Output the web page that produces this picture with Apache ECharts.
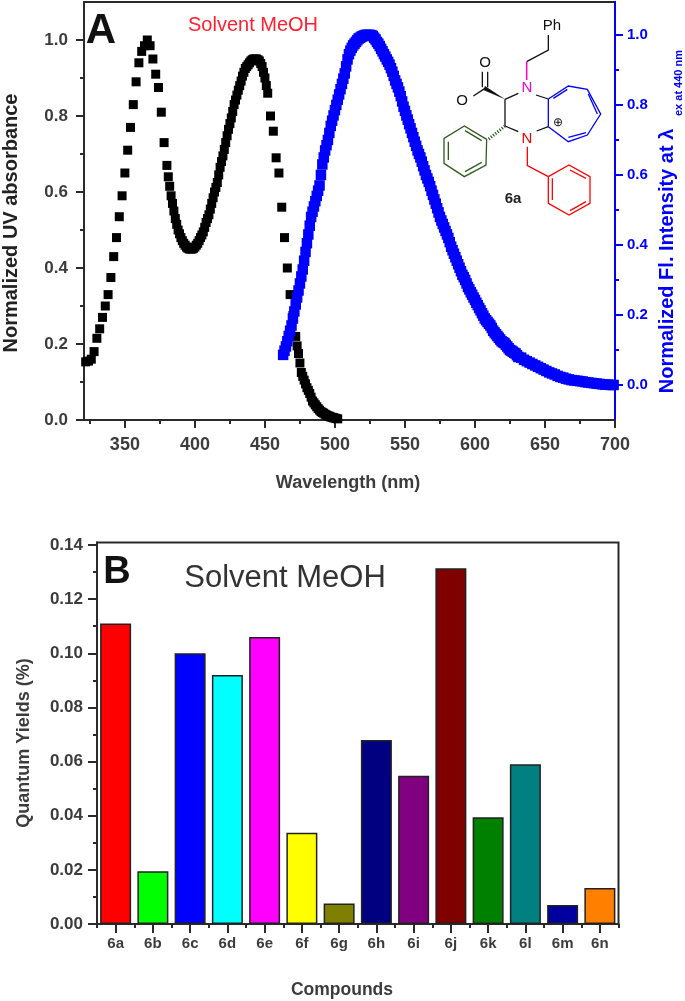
<!DOCTYPE html>
<html><head><meta charset="utf-8">
<script src="https://cdn.jsdelivr.net/npm/echarts@6/dist/echarts.min.js"></script>
<style>html,body{margin:0;padding:0;background:#fff}#c{width:685px;height:1001px;filter:blur(0.6px)}</style>
</head><body><div id="c"></div>
<script>
const uvStartNm = 322, uvStepNm = 2;
const uvAbsorbance = [.153,.155,.16,.18,.215,.24,.27,.30,.33,.375,.43,.48,.535,.59,.65,.71,.77,.83,.89,.94,.97,.985,1.0,.985,.95,.91,.875,.81,.73,.67,.615,.57,.53,.50,.48,.465,.455,.45,.45,.455,.465,.48,.495,.52,.54,.57,.60,.625,.665,.695,.73,.765,.795,.83,.855,.88,.905,.925,.935,.945,.95,.95,.945,.93,.90,.86,.80,.76,.69,.65,.56,.48,.40,.33,.275,.22,.175,.125,.105,.085,.07,.05,.04,.03,.022,.018,.013,.01,.007,.005,.003];
const uvOddStartNm = 381, uvOddStepNm = 2;
const uvAbsorbanceOdd = [.64,.59,.55,.515,.49,.472,.46,.452,.45,.452,.46,.472,.487,.507,.53,.555,.585,.612,.645,.68,.712,.748,.78,.812,.842,.868,.892,.915,.93,.94,.948,.95,.948,.938,.915,.88];
const uvTailStartNm = 473, uvTailStepNm = 2;
const uvAbsorbanceTail = [.195,.15,.115,.095,.078,.06,.045,.035,.026,.02,.015,.011,.008,.006,.004];
const flStartNm = 463, flStepNm = 2;
const flIntensity = [.086,.11,.14,.17,.21,.25,.29,.33,.38,.43,.48,.51,.54,.57,.63,.67,.70,.74,.77,.80,.83,.86,.89,.93,.955,.97,.98,.99,.995,.998,1.0,1.0,.997,.987,.975,.96,.945,.93,.915,.895,.87,.85,.825,.795,.77,.745,.72,.695,.67,.65,.625,.60,.58,.555,.53,.505,.48,.46,.44,.42,.395,.375,.355,.335,.315,.30,.28,.265,.25,.235,.22,.205,.19,.18,.17,.155,.145,.135,.125,.12,.11,.10,.095,.09,.08,.078,.072,.068,.064,.06,.056,.052,.048,.044,.04,.036,.033,.03,.026,.023,.021,.018,.016,.014,.013,.012,.011,.010,.008,.007,.006,.005,.004,.003,.002,.001,.001,.0,.0];
const flEvenStartNm = 464, flEvenStepNm = 2;
const flIntensityEven = [.098,.125,.155,.19,.23,.27,.31,.355,.405,.455,.495,.525,.555,.60,.65,.685,.72,.755,.785,.815,.845,.875,.91,.945,.963,.975,.985,.992,.997,1.0,1.0,.999,.992,.98,.968,.953,.938,.923,.905,.883,.86,.838,.81,.783,.758,.733,.708,.683,.66,.638,.613,.59,.568,.543,.518,.493,.47,.45,.43,.408,.385,.365,.345,.325,.308,.29,.273,.258,.243,.228,.213,.198,.185,.175,.163,.15,.14,.13,.122,.115,.105,.098,.092,.085];
const wavelengthMajor = [350,400,450,500,550,600,650,700];
const wavelengthMinor = [325,375,425,475,525,575,625,675];
const uvMajor = [0,.2,.4,.6,.8,1.0];
const uvMinor = [.1,.3,.5,.7,.9];
const flMajor = [0,.2,.4,.6,.8,1.0];
const flMinor = [.1,.3,.5,.7,.9];
const compounds = ['6a','6b','6c','6d','6e','6f','6g','6h','6i','6j','6k','6l','6m','6n'];
const yields = [.111,.0195,.100,.092,.106,.0337,.0076,.068,.0548,.1314,.0394,.059,.007,.0133];
const barColors = ['#ff0000','#00ff00','#0000ff','#00ffff','#ff00ff','#ffff00','#808000','#000080','#800080','#800000','#008000','#008080','#0000a0','#ff8000'];
const yieldMajor = [0,.02,.04,.06,.08,.10,.12,.14];
const yieldMinor = [.01,.03,.05,.07,.09,.11,.13];

const DARK='#2a2a2a', TXT='#3c3c3c', BLUE='#0000ff', FONT='"Liberation Sans",Arial,sans-serif';
const pts=(start,step,vals)=>vals.map((v,i)=>[start+i*step,v]);
const uvPts = [...pts(uvStartNm,uvStepNm,uvAbsorbance),...pts(uvOddStartNm,uvOddStepNm,uvAbsorbanceOdd),...pts(uvTailStartNm,uvTailStepNm,uvAbsorbanceTail)];
const flPts = [...pts(flStartNm,flStepNm,flIntensity),...pts(flEvenStartNm,flEvenStepNm,flIntensityEven)];

function tickAxis(base,vals,len,color,labelCfg,lineOn){
  return Object.assign({type:'value',scale:false,splitLine:{show:false},
    axisLine:{show:lineOn,onZero:false,lineStyle:{color:color,width:2}},
    axisTick:{show:true,customValues:vals,length:len,inside:false,lineStyle:{color:color,width:2}},
    axisLabel:labelCfg||{show:false}},base);
}
const AX={min:320.8,max:700}, AY={min:0,max:1.1}, AR={min:-0.1,max:1.094};
const BY={min:0,max:.14094};

const xAxis=[
  tickAxis({gridIndex:0,position:'bottom',...AX},wavelengthMajor,8,DARK,
    {show:true,customValues:wavelengthMajor,fontFamily:FONT,fontWeight:'bold',fontSize:18,color:TXT,margin:16,hideOverlap:false},true),
  tickAxis({gridIndex:0,position:'bottom',...AX},wavelengthMinor,4,DARK,null,false),
  {type:'category',gridIndex:1,position:'bottom',data:compounds,boundaryGap:true,
    axisLine:{show:true,onZero:false,lineStyle:{color:DARK,width:2}},
    axisTick:{show:true,alignWithLabel:true,length:9,lineStyle:{color:DARK,width:2}},
    axisLabel:{interval:0,fontFamily:FONT,fontWeight:'bold',fontSize:15,color:TXT,margin:12},splitLine:{show:false}},
  {type:'category',gridIndex:1,position:'bottom',data:compounds,boundaryGap:true,
    axisLine:{show:false},axisTick:{show:true,alignWithLabel:false,interval:0,length:4,lineStyle:{color:DARK,width:2}},
    axisLabel:{show:false},splitLine:{show:false}}
];
const yAxis=[
  tickAxis({gridIndex:0,position:'left',...AY},uvMajor,8,DARK,
    {show:true,customValues:uvMajor,formatter:v=>(+v).toFixed(1),fontFamily:FONT,fontWeight:'bold',fontSize:17,color:TXT,margin:16},true),
  tickAxis({gridIndex:0,position:'left',...AY},uvMinor,4,DARK,null,false),
  tickAxis({gridIndex:0,position:'right',...AR},flMajor,8,BLUE,
    {show:true,customValues:flMajor,formatter:v=>(+v).toFixed(1),fontFamily:FONT,fontWeight:'bold',fontSize:15,color:BLUE,margin:12},true),
  tickAxis({gridIndex:0,position:'right',...AR},flMinor,4,BLUE,null,false),
  tickAxis({gridIndex:1,position:'left',...BY},yieldMajor,9,DARK,
    {show:true,customValues:yieldMajor,formatter:v=>(+v).toFixed(2),fontFamily:FONT,fontWeight:'bold',fontSize:17,color:TXT,margin:14},true),
  tickAxis({gridIndex:1,position:'left',...BY},yieldMinor,4,DARK,null,false)
];

// chemical structure 6a, given in a local drawing space
const S=(x,y)=>[340+x/3,y/3];
function seg(points,color,w){return {type:'polyline',z:20,shape:{points:points.map(p=>S(p[0],p[1]))},style:{stroke:color,lineWidth:w||1.3,fill:null}};}
const BK='#111', GR='#2f5a20', RD='#ff0000', MG='#ff00cc';
const struct=[
  seg([[625,105],[625,150],[560,185]],BK),
  seg([[560,185],[560,240]],MG,1.5),
  seg([[588,285],[625,297]],BK),
  seg([[625,297],[625,380]],BLUE),
  seg([[625,297],[685,258],[742,268],[782,342],[742,405],[685,425],[625,380]],BLUE),
  seg([[640,295],[682,268]],BLUE), seg([[745,282],[772,342]],BLUE), seg([[685,412],[738,398]],BLUE),
  seg([[625,380],[590,393]],BK),
  seg([[495,298],[495,378]],BK),
  seg([[495,298],[535,280]],BK),
  seg([[495,378],[535,395]],BK),
  seg([[427,262],[427,215]],BK), seg([[443,262],[443,215]],BK),
  seg([[435,265],[400,288]],BK),
  {type:'polygon',z:20,shape:{points:[S(495,298),S(435,258),S(430,270)]},style:{fill:BK}},
  {type:'line',z:20,shape:{x1:S(495,378)[0],y1:S(495,378)[1],x2:S(445,418)[0],y2:S(445,418)[1]},style:{stroke:GR,lineWidth:3,lineDash:[1.2,1.6]}},
  seg([[440,418],[373,378],[312,415],[312,490],[373,530],[438,495],[440,418]],GR),
  seg([[325,425],[325,480]],GR), seg([[375,392],[425,422]],GR), seg([[375,515],[425,487]],GR),
  seg([[562,440],[562,497],[625,530]],RD),
  seg([[625,530],[687,495],[750,530],[750,610],[687,645],[625,610],[625,530]],RD),
  seg([[637,535],[637,600]],RD), seg([[690,510],[738,535]],RD), seg([[690,632],[738,605]],RD)
];
function txt(x,y,t,size,color,weight,rot,align){
  return {type:'text',z:30,x:x,y:y,rotation:rot||0,style:{text:t,font:(weight||'normal')+' '+size+'px '+FONT,fill:color,align:align||'center',verticalAlign:'middle'}};
}
const texts=[
  txt(101,31,'A',42,'#111','bold'),
  txt(253,25,'Solvent MeOH',20,'#ff2030'),
  txt(117,573,'B',38,'#111','bold'),
  txt(285,578,'Solvent MeOH',31,'#333'),
  txt(11,223,'Normalized UV absorbance',20,'#222','bold',Math.PI/2),
  txt(348,483,'Wavelength (nm)',18,TXT,'bold'),
  txt(667,261,'Normalized Fl. Intensity at \u03bb',20,BLUE,'bold',Math.PI/2),
  txt(679,83,'ex at 440 nm',11,BLUE,'bold',Math.PI/2),
  txt(24,743,'Quantum Yields (%)',18,TXT,'bold',Math.PI/2),
  txt(342,990,'Compounds',17.5,TXT,'bold'),
  txt(552,26,'Ph',15,'#111'),
  txt(485,63,'O',15,'#111'),
  txt(462,101,'O',15,'#111'),
  txt(527,88,'N',15,'#ff00cc'),
  txt(527,139,'N',15,'#ff0000'),
  txt(513,199,'6a',15,'#222','bold'),
  txt(558,123,'\u2295',12,'#111')
];

const chart=echarts.init(document.getElementById('c'),null,{renderer:'canvas'});
chart.setOption({
  animation:false,backgroundColor:'#fff',
  grid:[
    {left:84,top:2,width:531,height:418,show:true,borderColor:DARK,borderWidth:2,backgroundColor:'transparent'},
    {left:97,top:542.5,width:521.5,height:381.5,show:true,borderColor:DARK,borderWidth:2,backgroundColor:'transparent'}
  ],
  xAxis,yAxis,
  series:[
    {type:'scatter',xAxisIndex:0,yAxisIndex:0,data:uvPts,symbol:'rect',symbolSize:9,itemStyle:{color:'#000',opacity:1},clip:false,silent:true},
    {type:'scatter',xAxisIndex:0,yAxisIndex:2,data:flPts,symbol:'rect',symbolSize:10.5,itemStyle:{color:BLUE,opacity:1},clip:false,silent:true},
    {type:'bar',xAxisIndex:2,yAxisIndex:4,barWidth:31,silent:true,
     data:yields.map((v,i)=>({value:v,itemStyle:{color:barColors[i],borderColor:'#222',borderWidth:1.5}}))}
  ],
  graphic:{elements:[...struct,...texts]}
});
</script></body></html>
